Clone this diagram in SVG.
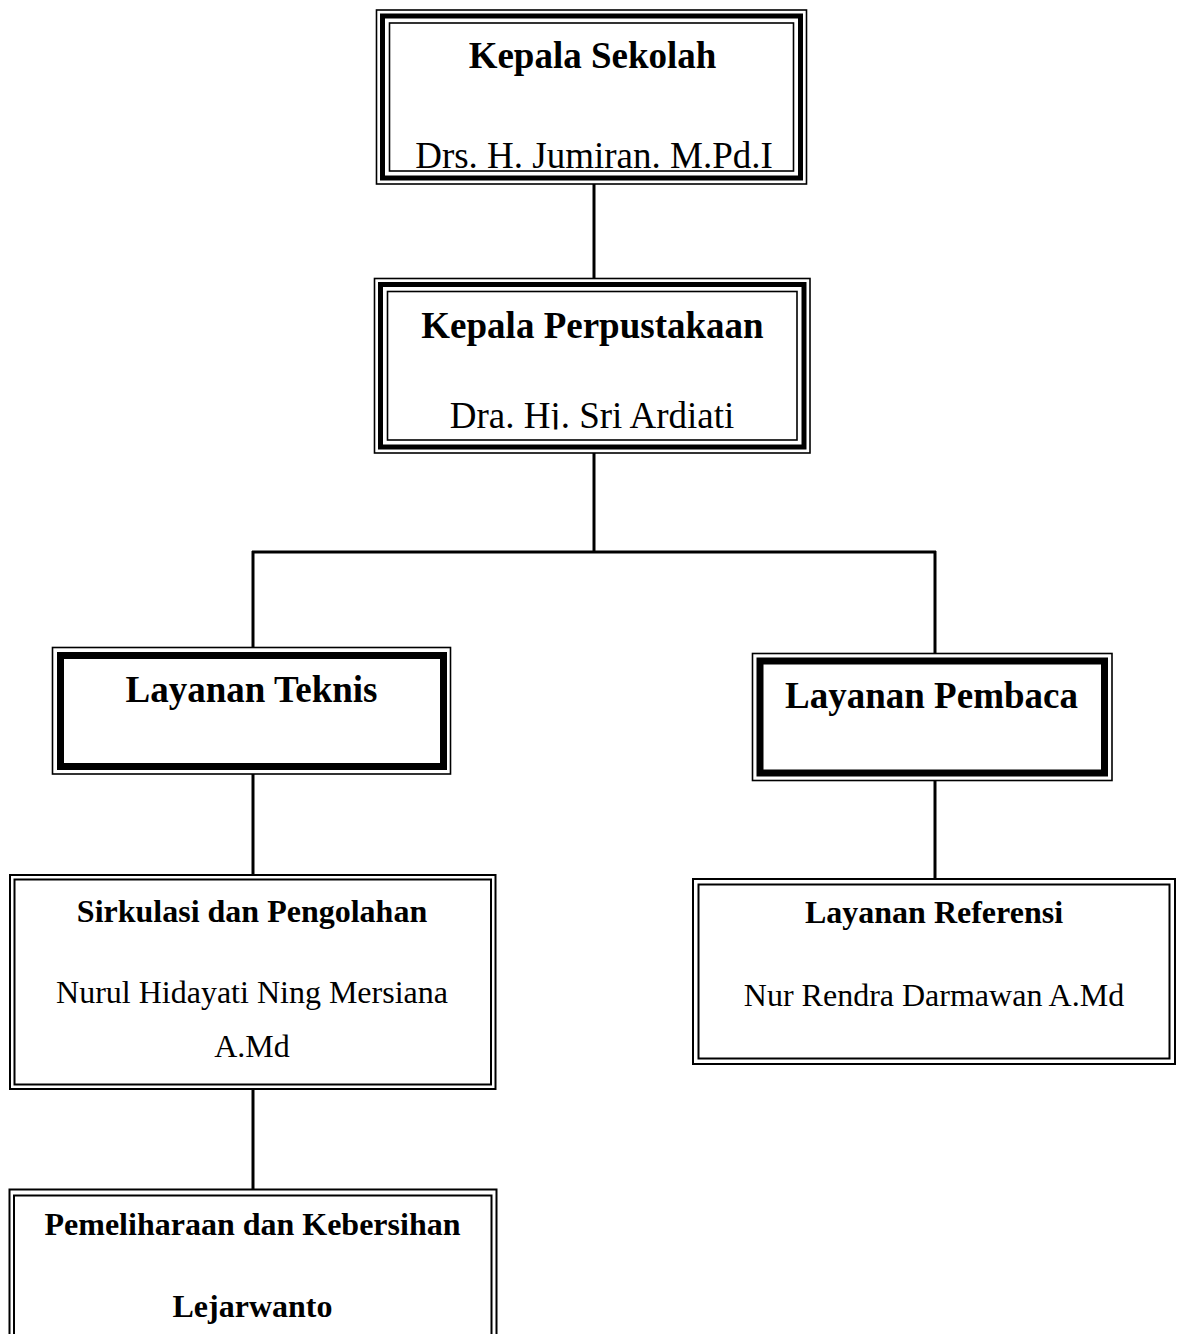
<svg xmlns="http://www.w3.org/2000/svg" width="1184" height="1334" viewBox="0 0 1184 1334">
<style>
  .bg{fill:#ffffff}
  .thin{fill:none;stroke:#000;stroke-width:1.6}
  .thick5{fill:none;stroke:#000;stroke-width:5}
  .thick7{fill:none;stroke:#000;stroke-width:7}
  .dbl{fill:none;stroke:#000;stroke-width:2}
  .conn{stroke:#000;stroke-width:3;fill:none}
  .t{font-family:"Liberation Serif","Times New Roman",serif;fill:#000;text-anchor:middle}
  .b37{font-size:37px;font-weight:bold}
  .r37{font-size:37px}
  .b32{font-size:32px;font-weight:bold}
  .r32{font-size:32px}
</style>
<defs>
  <clipPath id="clip2"><rect x="380" y="284" width="424" height="145.5"/></clipPath>
</defs>
<rect class="bg" x="0" y="0" width="1184" height="1334"/>
<g id="connectors">
  <line class="conn" x1="594" y1="184" x2="594" y2="278"/>
  <line class="conn" x1="594" y1="453" x2="594" y2="552"/>
  <line class="conn" x1="252" y1="552" x2="936" y2="552"/>
  <line class="conn" x1="253" y1="551" x2="253" y2="647.5"/>
  <line class="conn" x1="935" y1="551" x2="935" y2="653"/>
  <line class="conn" x1="253" y1="774" x2="253" y2="875"/>
  <line class="conn" x1="935" y1="781" x2="935" y2="879"/>
  <line class="conn" x1="253" y1="1089" x2="253" y2="1189"/>
</g>
<g id="kepala-sekolah">
  <rect class="bg" x="376.5" y="10" width="430" height="174"/>
  <rect class="thin" x="376.5" y="10" width="430" height="174"/>
  <rect class="thick5" x="382.5" y="16" width="418" height="162"/>
  <rect class="thin" x="389.5" y="23" width="404" height="148"/>
  <text class="t b37" x="592.5" y="68">Kepala Sekolah</text>
  <text class="t r37" x="594" y="168">Drs. H. Jumiran. M.Pd.I</text>
</g>
<g id="kepala-perpustakaan">
  <rect class="bg" x="374.5" y="278.5" width="435.5" height="174.5"/>
  <rect class="thin" x="374.5" y="278.5" width="435.5" height="174.5"/>
  <rect class="thick5" x="380.5" y="284.5" width="423.5" height="162.5"/>
  <rect class="thin" x="387.5" y="291.5" width="409.5" height="148.5"/>
  <text class="t b37" x="592.5" y="338">Kepala Perpustakaan</text>
  <text class="t r37" x="592" y="428" clip-path="url(#clip2)">Dra. Hj. Sri Ardiati</text>
</g>
<g id="layanan-teknis">
  <rect class="bg" x="52.5" y="647.5" width="398" height="126.5"/>
  <rect class="thin" x="52.5" y="647.5" width="398" height="126.5"/>
  <rect class="thick7" x="60.5" y="655.5" width="383" height="111"/>
  <text class="t b37" x="251.5" y="702">Layanan Teknis</text>
</g>
<g id="layanan-pembaca">
  <rect class="bg" x="752.5" y="653.5" width="359.5" height="127"/>
  <rect class="thin" x="752.5" y="653.5" width="359.5" height="127"/>
  <rect class="thick7" x="760" y="661" width="344.5" height="112"/>
  <text class="t b37" x="931.5" y="708">Layanan Pembaca</text>
</g>
<g id="sirkulasi">
  <rect class="bg" x="10" y="875" width="485.5" height="214"/>
  <rect class="dbl" x="10" y="875" width="485.5" height="214"/>
  <rect class="dbl" x="14.5" y="879.5" width="476.5" height="205"/>
  <text class="t b32" x="252" y="922">Sirkulasi dan Pengolahan</text>
  <text class="t r32" x="252" y="1003">Nurul Hidayati Ning Mersiana</text>
  <text class="t r32" x="252" y="1057">A.Md</text>
</g>
<g id="pemeliharaan">
  <rect class="bg" x="9.5" y="1189.5" width="487" height="200"/>
  <rect class="dbl" x="9.5" y="1189.5" width="487" height="200"/>
  <rect class="dbl" x="14" y="1195.5" width="477.5" height="190"/>
  <text class="t b32" x="252.5" y="1235">Pemeliharaan dan Kebersihan</text>
  <text class="t b32" x="252.5" y="1317">Lejarwanto</text>
</g>
<g id="layanan-referensi">
  <rect class="bg" x="693" y="879" width="482" height="185"/>
  <rect class="dbl" x="693" y="879" width="482" height="185"/>
  <rect class="dbl" x="698.5" y="884.5" width="471" height="174"/>
  <text class="t b32" x="934" y="923">Layanan Referensi</text>
  <text class="t r32" x="934" y="1006">Nur Rendra Darmawan A.Md</text>
</g>
</svg>
